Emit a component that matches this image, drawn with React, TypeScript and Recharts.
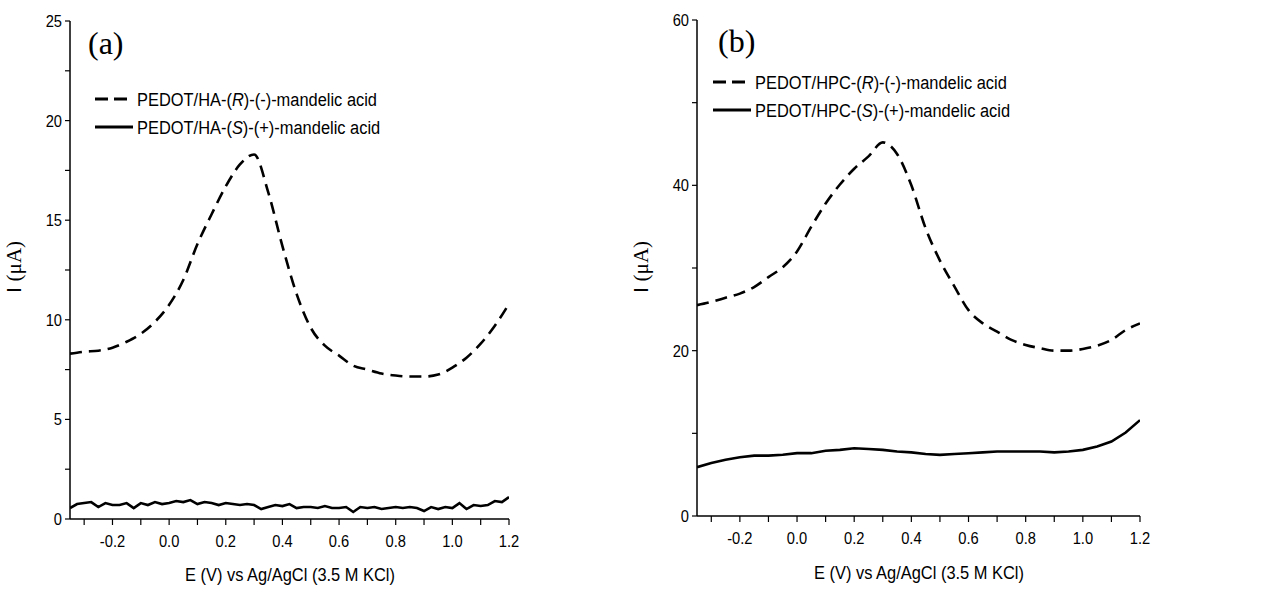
import React from "react";
import { LineChart, Line, XAxis, YAxis } from "recharts";

// potential grids (V vs Ag/AgCl)
const eCoarse = [
  -0.35, -0.3, -0.25, -0.2, -0.15, -0.1, -0.05, 0, 0.05, 0.1, 0.15, 0.2, 0.25,
  0.3, 0.35, 0.4, 0.45, 0.5, 0.55, 0.6, 0.65, 0.7, 0.75, 0.8, 0.85, 0.9, 0.95,
  1.0, 1.05, 1.1, 1.15, 1.2,
];
const eFine = [
  -0.35, -0.325, -0.3, -0.275, -0.25, -0.225, -0.2, -0.175, -0.15, -0.125,
  -0.1, -0.075, -0.05, -0.025, 0, 0.025, 0.05, 0.075, 0.1, 0.125, 0.15, 0.175,
  0.2, 0.225, 0.25, 0.275, 0.3, 0.325, 0.35, 0.375, 0.4, 0.425, 0.45, 0.475,
  0.5, 0.525, 0.55, 0.575, 0.6, 0.625, 0.65, 0.675, 0.7, 0.725, 0.75, 0.775,
  0.8, 0.825, 0.85, 0.875, 0.9, 0.925, 0.95, 0.975, 1.0, 1.025, 1.05, 1.075,
  1.1, 1.125, 1.15, 1.175, 1.2,
];

// (a) PEDOT/HA, current in µA
const haR = [
  8.3, 8.4, 8.45, 8.6, 8.9, 9.3, 9.9, 10.75, 12.0, 13.8, 15.3, 16.7, 17.8,
  18.3, 16.4, 13.7, 11.3, 9.6, 8.7, 8.2, 7.7, 7.5, 7.3, 7.2, 7.15, 7.15, 7.25,
  7.6, 8.1, 8.8, 9.7, 10.8,
];
const haS = [
  0.55, 0.75, 0.8, 0.85, 0.6, 0.8, 0.7, 0.7, 0.8, 0.55, 0.8, 0.7, 0.85, 0.75,
  0.8, 0.9, 0.85, 0.95, 0.75, 0.85, 0.8, 0.7, 0.8, 0.75, 0.7, 0.75, 0.7, 0.5,
  0.6, 0.7, 0.65, 0.75, 0.55, 0.6, 0.6, 0.55, 0.65, 0.55, 0.55, 0.6, 0.35, 0.6,
  0.55, 0.6, 0.5, 0.55, 0.6, 0.55, 0.6, 0.55, 0.4, 0.6, 0.5, 0.6, 0.55, 0.8,
  0.5, 0.7, 0.65, 0.7, 0.9, 0.85, 1.1,
];

// (b) PEDOT/HPC
const hpcR = [
  25.5, 25.9, 26.4, 26.9, 27.7, 28.9, 30.1, 32.0, 35.0, 37.8, 40.1, 42.0, 43.5,
  45.2, 43.8, 40.0, 34.8, 30.9, 27.8, 24.9, 23.3, 22.3, 21.3, 20.7, 20.3, 20.0,
  20.0, 20.2, 20.6, 21.3, 22.5, 23.3,
];
const hpcS = [
  5.9, 6.4, 6.8, 7.1, 7.3, 7.3, 7.4, 7.6, 7.6, 7.9, 8.0, 8.2, 8.1, 8.0, 7.8,
  7.7, 7.5, 7.4, 7.5, 7.6, 7.7, 7.8, 7.8, 7.8, 7.8, 7.7, 7.8, 8.0, 8.4, 9.0,
  10.1, 11.6,
];

const xTicks = [
  -0.3, -0.2, -0.1, 0, 0.1, 0.2, 0.3, 0.4, 0.5, 0.6, 0.7, 0.8, 0.9, 1.0, 1.1,
  1.2,
];
const yTicksA = [0, 2.5, 5, 7.5, 10, 12.5, 15, 17.5, 20, 22.5, 25];
const yTicksB = [0, 10, 20, 30, 40, 50, 60];

const FONT = "'Liberation Sans', Arial, sans-serif";
const SERIF = "'Liberation Serif', 'Times New Roman', serif";
const NARROW = 0.865; // the original uses a condensed sans

const zip = (xs: number[], ys: number[]) => xs.map((e, i) => ({ e, i: ys[i] }));

const XTick = (props: any) => {
  const { x, y, payload } = props;
  const v = payload.value as number;
  if (Math.abs(Math.round(v * 10)) % 2 !== 0) return <g />;
  return (
    <g transform={`translate(${x},${y}) scale(${NARROW},1)`}>
      <text x={0} y={0} dy="0.71em" textAnchor="middle" fontFamily={FONT} fontSize={17} fill="#000">
        {v.toFixed(1)}
      </text>
    </g>
  );
};

const makeYTick = (step: number) => (props: any) => {
  const { x, y, payload } = props;
  const v = payload.value as number;
  if (v % step !== 0) return <g />;
  return (
    <g transform={`translate(${x},${y}) scale(${NARROW},1)`}>
      <text x={0} y={0} dy="0.355em" textAnchor="end" fontFamily={FONT} fontSize={17} fill="#000">
        {v}
      </text>
    </g>
  );
};

interface PanelProps {
  left: number;
  width: number;
  plotTop: number;
  rightMargin: number;
  bottomMargin: number;
  dashed: { e: number; i: number }[];
  solid: { e: number; i: number }[];
  yMax: number;
  yTicks: number[];
  yStep: number;
}

const Panel = (p: PanelProps) => (
  <div style={{ position: "absolute", left: p.left, top: 0 }}>
    <LineChart
      width={p.width}
      height={590}
      margin={{ top: p.plotTop, right: p.rightMargin, bottom: p.bottomMargin, left: 0 }}
    >
      <XAxis
        type="number"
        dataKey="e"
        domain={[-0.35, 1.2]}
        ticks={xTicks}
        interval={0}
        tick={<XTick />}
        tickSize={6}
        tickMargin={10}
        height={30}
        allowDataOverflow
        axisLine={{ stroke: "#000", strokeWidth: 1.5 }}
        tickLine={{ stroke: "#000", strokeWidth: 1.2 }}
      />
      <YAxis
        type="number"
        domain={[0, p.yMax]}
        ticks={p.yTicks}
        interval={0}
        tick={makeYTick(p.yStep)}
        tickSize={5}
        tickMargin={3}
        width={70}
        axisLine={{ stroke: "#000", strokeWidth: 1.5 }}
        tickLine={{ stroke: "#000", strokeWidth: 1.2 }}
      />
      <Line
        data={p.dashed}
        dataKey="i"
        type="monotone"
        stroke="#000"
        strokeWidth={2.6}
        strokeDasharray="12 7"
        dot={false}
        isAnimationActive={false}
      />
      <Line
        data={p.solid}
        dataKey="i"
        type="linear"
        stroke="#000"
        strokeWidth={2.6}
        dot={false}
        isAnimationActive={false}
      />
    </LineChart>
  </div>
);

const LegendRow = ({ x, y, dashed, base, tag, sign }: any) => (
  <g>
    <line x1={x} y1={y} x2={dashed ? x + 33 : x + 38} y2={y} stroke="#000" strokeWidth={3}
      strokeDasharray={dashed ? "13 6" : undefined} />
    <g transform={`translate(${x + 42},${y + 7}) scale(${NARROW},1)`}>
      <text x={0} y={0} fontFamily={FONT} fontSize={19}>
        {base}-(<tspan fontStyle="italic">{tag}</tspan>)-({sign})-mandelic acid
      </text>
    </g>
  </g>
);

const AxisTitleX = ({ x, y }: { x: number; y: number }) => (
  <g transform={`translate(${x},${y}) scale(${NARROW},1)`}>
    <text x={0} y={0} textAnchor="middle" fontFamily={FONT} fontSize={19}>
      E (V) vs Ag/AgCl (3.5 M KCl)
    </text>
  </g>
);

const AxisTitleY = ({ x, y }: { x: number; y: number }) => (
  <text x={x} y={y} transform={`rotate(-90 ${x} ${y})`} textAnchor="middle" fontSize={21}>
    <tspan fontFamily={FONT}>I </tspan>
    <tspan fontFamily={SERIF}>(μA)</tspan>
  </text>
);

export default function App() {
  return (
    <div style={{ position: "absolute", left: 0, top: 0, width: 1263, height: 590, background: "#fff" }}>
      <Panel
        left={0}
        width={620}
        plotTop={21}
        rightMargin={111}
        bottomMargin={41}
        dashed={zip(eCoarse, haR)}
        solid={zip(eFine, haS)}
        yMax={25}
        yTicks={yTicksA}
        yStep={5}
      />
      <Panel
        left={627}
        width={630}
        plotTop={20}
        rightMargin={117}
        bottomMargin={44}
        dashed={zip(eCoarse, hpcR)}
        solid={zip(eCoarse, hpcS)}
        yMax={60}
        yTicks={yTicksB}
        yStep={20}
      />
      <svg width={1263} height={590} style={{ position: "absolute", left: 0, top: 0, pointerEvents: "none" }}>
        <text x={88} y={54} fontFamily={SERIF} fontSize={32}>(a)</text>
        <text x={718} y={52} fontFamily={SERIF} fontSize={32}>(b)</text>

        <LegendRow x={95} y={99} dashed base="PEDOT/HA" tag="R" sign="-" />
        <LegendRow x={95} y={127} dashed={false} base="PEDOT/HA" tag="S" sign="+" />
        <LegendRow x={713} y={82} dashed base="PEDOT/HPC" tag="R" sign="-" />
        <LegendRow x={713} y={110} dashed={false} base="PEDOT/HPC" tag="S" sign="+" />

        <AxisTitleX x={290} y={581} />
        <AxisTitleX x={919} y={579} />
        <AxisTitleY x={21} y={267} />
        <AxisTitleY x={648} y={267} />
      </svg>
    </div>
  );
}
